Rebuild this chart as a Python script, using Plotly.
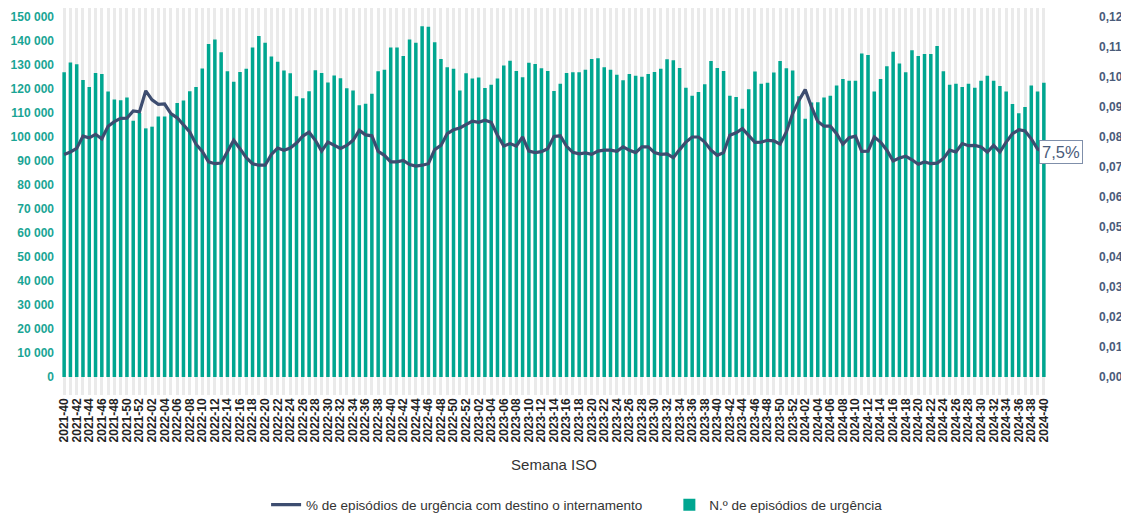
import plotly.graph_objects as go

# ISO week ranges (year, first week, last week)
YEAR_WEEKS = [(2021, 40, 52), (2022, 1, 52), (2023, 1, 52), (2024, 1, 40)]
weeks = [f"{y}-{w:02d}" for (y, a, b) in YEAR_WEEKS for w in range(a, b + 1)]

episodes = [
    127000, 131000, 130300, 123800, 120800, 126700, 126300, 119000, 115600, 115300,
    116500, 106800, 110000, 103600, 104300, 108500, 108500, 109500, 114200, 115200,
    119100, 120800, 128500, 138700, 140600, 135300, 127400, 123000, 127100, 128400,
    137300, 142100, 139300, 133500, 131400, 127700, 126600, 117000, 116100, 119100,
    127800, 126700, 122700, 125600, 124500, 120300, 119400, 113200, 113900, 118000,
    127400, 128000, 137300, 137300, 133700, 140600, 139300, 146100, 145900, 139500,
    132500, 129100, 128400, 119400, 126600, 124400, 124800, 120400, 121800, 124400,
    129800, 131800, 127500, 124900, 130900, 130400, 128600, 127500, 119200, 122200,
    126700, 127000, 127000, 128000, 132500, 132800, 129100, 128000, 125900, 123600,
    126300, 125500, 125100, 126300, 127100, 128400, 132400, 132000, 128800, 120500,
    117200, 118700, 122000, 131700, 128800, 127500, 117200, 116700, 111800, 119900,
    127300, 122200, 122600, 126900, 131700, 128600, 127700, 117000, 107600, 114400,
    114500, 116500, 117200, 121500, 124200, 123400, 123400, 134800, 134200, 119000,
    124200, 129500, 135500, 130600, 127000, 136100, 133700, 134600, 134600, 137900,
    127400, 121800, 122200, 120800, 122200, 120500, 123400, 125500, 123400, 121200,
    119000, 113800, 109900, 112500, 121500, 119000, 122600,
]

pct_admission = [
    0.0742, 0.0750, 0.0762, 0.0803, 0.0797, 0.0809, 0.0794, 0.0836, 0.0851, 0.0862,
    0.0863, 0.0887, 0.0884, 0.0954, 0.0924, 0.0909, 0.0910, 0.0878, 0.0864, 0.0841,
    0.0817, 0.0776, 0.0752, 0.0717, 0.0711, 0.0713, 0.0750, 0.0789, 0.0761, 0.0731,
    0.0711, 0.0706, 0.0706, 0.0742, 0.0763, 0.0756, 0.0763, 0.0780, 0.0803, 0.0816,
    0.0789, 0.0753, 0.0783, 0.0772, 0.0762, 0.0772, 0.0789, 0.0822, 0.0807, 0.0804,
    0.0752, 0.0739, 0.0717, 0.0717, 0.0722, 0.0708, 0.0703, 0.0706, 0.0711, 0.0758,
    0.0772, 0.0811, 0.0824, 0.0830, 0.0842, 0.0853, 0.0849, 0.0856, 0.0849, 0.0806,
    0.0770, 0.0778, 0.0770, 0.0800, 0.0753, 0.0748, 0.0751, 0.0761, 0.0802, 0.0804,
    0.0769, 0.0749, 0.0744, 0.0747, 0.0742, 0.0753, 0.0756, 0.0756, 0.0752, 0.0767,
    0.0756, 0.0748, 0.0767, 0.0767, 0.0748, 0.0742, 0.0744, 0.0731, 0.0758, 0.0783,
    0.0800, 0.0800, 0.0783, 0.0756, 0.0739, 0.0748, 0.0806, 0.0814, 0.0828, 0.0806,
    0.0782, 0.0783, 0.0789, 0.0787, 0.0776, 0.0817, 0.0878, 0.0922, 0.0958, 0.0900,
    0.0852, 0.0836, 0.0836, 0.0811, 0.0776, 0.0798, 0.0803, 0.0752, 0.0753, 0.0800,
    0.0783, 0.0756, 0.0720, 0.0730, 0.0736, 0.0724, 0.0709, 0.0717, 0.0711, 0.0713,
    0.0728, 0.0756, 0.0750, 0.0778, 0.0771, 0.0772, 0.0767, 0.0750, 0.0772, 0.0750,
    0.0783, 0.0811, 0.0824, 0.0820, 0.0794, 0.0760, 0.0750,
]

left_ticks = [0, 10000, 20000, 30000, 40000, 50000, 60000, 70000, 80000, 90000,
              100000, 110000, 120000, 130000, 140000, 150000]
right_ticks = [0.00, 0.01, 0.02, 0.03, 0.04, 0.05, 0.06, 0.07, 0.08, 0.09, 0.10, 0.11, 0.12]

TEAL = "#00A690"
NAVY = "#3D4D70"
RIGHT_COL = "#4A5B7A"
FONT = "Liberation Sans, Arial"

tick_text = [w if i % 2 == 0 else "" for i, w in enumerate(weeks)]

fig = go.Figure()
fig.add_trace(go.Bar(
    x=weeks, y=episodes, name="N.º de episódios de urgência",
    marker=dict(color=TEAL, line=dict(width=0)), yaxis="y", legend="legend2",
))
fig.add_trace(go.Scatter(
    x=weeks, y=pct_admission, name="% de episódios de urgência com destino o internamento",
    mode="lines", line=dict(color=NAVY, width=3.2), yaxis="y2", legend="legend",
))

fig.add_annotation(
    x=weeks[-1], y=pct_admission[-1], xref="x", yref="y2",
    text="7,5%", showarrow=False, xanchor="left", yanchor="middle", xshift=-5,
    font=dict(family=FONT, size=16.5, color=RIGHT_COL),
    bgcolor="white", bordercolor="#7F8FAA", borderwidth=1, borderpad=2,
)

legend_font = dict(family=FONT, size=13.5, color="#333333")

fig.update_layout(
    width=1121, height=507,
    margin=dict(l=53, r=82, t=0, b=120, autoexpand=False),
    paper_bgcolor="white", plot_bgcolor="white",
    separators=", ",
    bargap=0.44,
    showlegend=True,
    legend=dict(orientation="h", x=0.208, xanchor="left", y=-0.284, yanchor="middle",
                font=legend_font, itemwidth=30),
    legend2=dict(orientation="h", x=0.617, xanchor="left", y=-0.284, yanchor="middle",
                 font=legend_font, itemwidth=30),
    font=dict(family=FONT),
    xaxis=dict(
        type="category", tickmode="array", tickvals=weeks, ticktext=tick_text,
        tickangle=-90, showgrid=True, gridcolor="#EAEAEA", gridwidth=3,
        showline=False, zeroline=False, ticks="", automargin=False,
        tickfont=dict(family=FONT, size=12, color="#222222", weight="bold"),
        range=[-0.5, len(weeks) - 0.5],
        title=dict(text="Semana ISO", standoff=18,
                   font=dict(family=FONT, size=15, color="#333333")),
    ),
    yaxis=dict(
        range=[-7500, 153750], tickmode="array", tickvals=left_ticks, tickformat=",d",
        showgrid=False, zeroline=False, showline=False, automargin=False,
        tickfont=dict(family=FONT, size=12, color="#1AA595", weight="bold"),
        ticklabelstandoff=6,
    ),
    yaxis2=dict(
        range=[-0.006, 0.123], overlaying="y", side="right", tickmode="array",
        tickvals=right_ticks, tickformat=".2f", showgrid=False, zeroline=False, showline=False,
        automargin=False,
        tickfont=dict(family=FONT, size=12, color=RIGHT_COL, weight="bold"),
        ticklabelstandoff=51,
    ),
)

fig.write_html("out.html")
